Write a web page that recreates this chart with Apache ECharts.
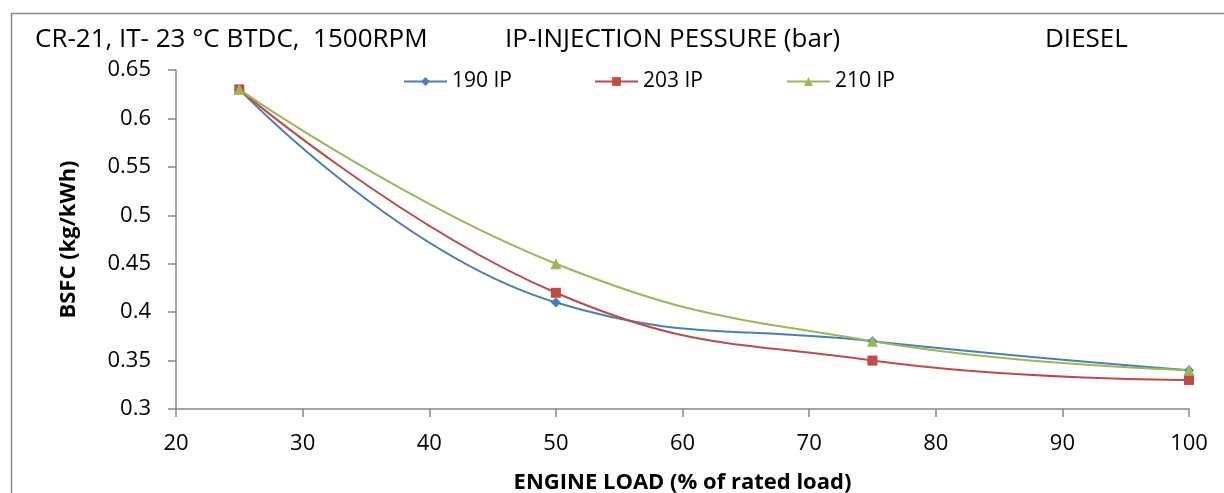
<!DOCTYPE html>
<html><head><meta charset="utf-8">
<script src="https://cdn.jsdelivr.net/npm/echarts@6/dist/echarts.min.js"></script>
<style>html,body{margin:0;padding:0;background:#fff}#c{width:1224px;height:493px}</style>
</head><body><div id="c"></div>
<script>
const loads = [25, 50, 75, 100];
const ip190 = [0.63, 0.41, 0.37, 0.34];
const ip203 = [0.63, 0.42, 0.35, 0.33];
const ip210 = [0.63, 0.45, 0.37, 0.34];
const seriesNames = ['190 IP', '203 IP', '210 IP'];
const topTexts = ['CR-21, IT- 23 °C BTDC,  1500RPM', 'IP-INJECTION PESSURE (bar)', 'DIESEL'];
const xName = 'ENGINE LOAD (% of rated load)';
const yName = 'BSFC (kg/kWh)';

const FONT = 'Open Sans';
const colors = ['#4a7ebb', '#be4b48', '#98b954'];
const symbols = ['diamond', 'rect', 'triangle'];
const symSizes = [10, 10, 11];
const vals = [ip190, ip203, ip210];
const axisCol = '#868686';

const chart = echarts.init(document.getElementById('c'));
const legendLefts = [403, 594, 786];
const titleLefts = [35, 505, 1045];
chart.setOption({
  animation: false,
  backgroundColor: '#fff',
  textStyle: { fontFamily: FONT, color: '#000' },
  title: topTexts.map((t, i) => ({
    text: t, left: titleLefts[i], top: 27, padding: 0,
    textStyle: { fontFamily: FONT, fontSize: 26, fontWeight: 'normal', color: '#000' }
  })),
  legend: seriesNames.map((n, i) => ({
    data: [n], left: legendLefts[i], top: 71, padding: 0, itemWidth: 43, itemHeight: 11,
    textStyle: { fontFamily: FONT, fontSize: 21, color: '#000' }
  })),
  grid: { left: 176, right: 35, top: 70, bottom: 84, containLabel: false, outerBoundsMode: 'none' },
  xAxis: {
    type: 'value', min: 20, max: 100, interval: 10,
    name: xName, nameLocation: 'middle', nameGap: 63,
    nameTextStyle: { fontFamily: FONT, fontSize: 22, fontWeight: 'bold', color: '#000' },
    axisLine: { lineStyle: { color: axisCol, width: 1.5 } },
    axisTick: { show: true, length: 8, lineStyle: { color: axisCol, width: 1.5 } },
    axisLabel: { fontFamily: FONT, fontSize: 22, color: '#000', margin: 24 },
    splitLine: { show: false }
  },
  yAxis: {
    type: 'value', min: 0.3, max: 0.65, interval: 0.05,
    name: yName, nameLocation: 'middle', nameGap: 96, nameRotate: 90,
    nameTextStyle: { fontFamily: FONT, fontSize: 22, fontWeight: 'bold', color: '#000' },
    axisLine: { show: true, lineStyle: { color: axisCol, width: 1.5 } },
    axisTick: { show: true, length: 8, lineStyle: { color: axisCol, width: 1.5 } },
    axisLabel: { fontFamily: FONT, fontSize: 22, color: '#000', margin: 25,
      formatter: v => String(parseFloat(v.toFixed(2))) },
    splitLine: { show: false }
  },
  series: seriesNames.map((n, i) => ({
    name: n, type: 'line', smooth: 0.45,
    data: loads.map((x, j) => [x, vals[i][j]]),
    symbol: symbols[i], symbolSize: symSizes[i], showAllSymbol: true,
    itemStyle: { color: colors[i] },
    lineStyle: { color: colors[i], width: 2 }
  })),
  graphic: [{
    type: 'rect', left: 9, top: 11, silent: true,
    shape: { width: 1230, height: 500 },
    style: { fill: 'none', stroke: axisCol, lineWidth: 1.5 }
  }]
});
</script></body></html>
